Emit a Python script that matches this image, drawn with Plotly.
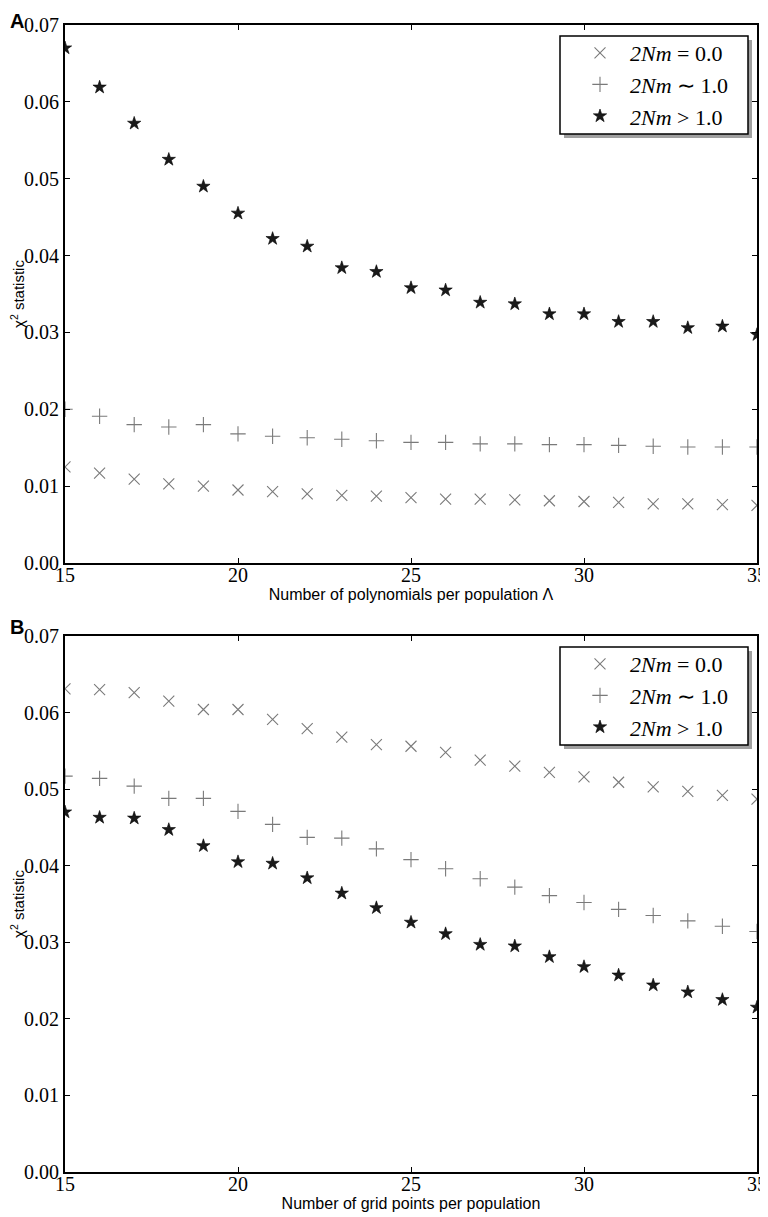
import plotly.graph_objects as go
from plotly.subplots import make_subplots

# ---------------- data ----------------
x_a = list(range(15, 36))
a_nm0 = [0.0125, 0.0117, 0.0109, 0.0103, 0.0100, 0.0095, 0.0093, 0.0090, 0.0088, 0.0087,
         0.0085, 0.0083, 0.0083, 0.0082, 0.0081, 0.0080, 0.0079, 0.0077, 0.0077, 0.0076, 0.0075]
a_nm1 = [0.0200, 0.0191, 0.0180, 0.0177, 0.0180, 0.0168, 0.0165, 0.0163, 0.0161, 0.0159,
         0.0157, 0.0157, 0.0155, 0.0155, 0.0154, 0.0154, 0.0153, 0.0152, 0.0151, 0.0151, 0.0151]
a_nmg = [0.0670, 0.0619, 0.0572, 0.0525, 0.0490, 0.0455, 0.0422, 0.0412, 0.0384, 0.0379,
         0.0358, 0.0355, 0.0339, 0.0337, 0.0324, 0.0324, 0.0314, 0.0314, 0.0306, 0.0308, 0.0297]

x_b = list(range(15, 36))
b_nm0 = [0.0631, 0.0630, 0.0626, 0.0615, 0.0604, 0.0604, 0.0591, 0.0579, 0.0568, 0.0558,
         0.0556, 0.0548, 0.0538, 0.0530, 0.0522, 0.0516, 0.0509, 0.0503, 0.0497, 0.0492, 0.0487]
b_nm1 = [0.0517, 0.0514, 0.0504, 0.0488, 0.0488, 0.0471, 0.0454, 0.0437, 0.0436, 0.0422,
         0.0408, 0.0396, 0.0383, 0.0372, 0.0361, 0.0352, 0.0343, 0.0335, 0.0328, 0.0321, 0.0314]
b_nmg = [0.0470, 0.0463, 0.0462, 0.0447, 0.0426, 0.0405, 0.0403, 0.0384, 0.0364, 0.0345,
         0.0326, 0.0311, 0.0297, 0.0295, 0.0281, 0.0268, 0.0257, 0.0244, 0.0235, 0.0225, 0.0215]

series_names = ["<i>2Nm</i> = 0.0", "<i>2Nm</i> ∼ 1.0", "<i>2Nm</i> > 1.0"]
x_titles = ["Number of polynomials per population Λ", "Number of grid points per population"]
y_title = "χ<sup>2</sup> statistic"
x_ticks = [15, 20, 25, 30, 35]
y_ticks = [0.00, 0.01, 0.02, 0.03, 0.04, 0.05, 0.06, 0.07]

# ---------------- layout helpers (page pixel coords; page body has 8px margin) ----------------
OFF = 8
W, H = 768 - OFF, 1217 - OFF
ML, MT = 65 - OFF, 25 - OFF
MR, MB = 11, 45
PW, PH = W - ML - MR, H - MT - MB


def px_x(p):
    return (p - OFF - ML) / PW


def px_y(p):
    return 1 - (p - OFF - MT) / PH


fig = make_subplots(rows=2, cols=1, vertical_spacing=0.0)

styles = [
    dict(symbol="x-thin", size=11, color="#7a7a7a", line=dict(width=1.1, color="#7a7a7a")),
    dict(symbol="cross-thin", size=11, color="#7a7a7a", line=dict(width=1.1, color="#7a7a7a")),
    dict(symbol="star", size=10, color="#1a1a1a", line=dict(width=0.6, color="#000000")),
]

for row, (xs, ys_list, leg) in enumerate([(x_a, [a_nm0, a_nm1, a_nmg], "legend"),
                                           (x_b, [b_nm0, b_nm1, b_nmg], "legend2")], start=1):
    for name, ys, st in zip(series_names, ys_list, styles):
        fig.add_trace(go.Scatter(x=xs, y=ys, mode="markers", name=name, marker=st,
                                 legend=leg, cliponaxis=True), row=row, col=1)

axis_common = dict(showline=True, linecolor="black", linewidth=2, mirror="ticks",
                   ticks="inside", ticklen=5, tickwidth=1, tickcolor="black",
                   showgrid=False, zeroline=False, automargin=False,
                   tickfont=dict(family="Liberation Serif", size=20, color="black"))

for i in (1, 2):
    fig.update_xaxes(axis_common, row=i, col=1, range=[15, 35], tickvals=x_ticks,
                     ticktext=[str(v) for v in x_ticks],
                     title=dict(text=x_titles[i - 1], standoff=0,
                                font=dict(family="Liberation Sans", size=16, color="black")))
    try:
        fig.update_xaxes(row=i, col=1, ticklabelstandoff=-7)
    except Exception:
        pass
    fig.update_yaxes(axis_common, row=i, col=1, range=[0, 0.07], tickvals=y_ticks,
                     ticktext=[f"{v:.2f}" for v in y_ticks],
                     title=dict(text=y_title, standoff=0,
                                font=dict(family="Liberation Sans", size=15, color="black")))

fig.update_layout(
    yaxis=dict(domain=[px_y(563), 1.0]),
    yaxis2=dict(domain=[0.0, px_y(636)]),
)

legend_common = dict(bgcolor="rgba(0,0,0,0)", borderwidth=0,
                     font=dict(family="Liberation Serif", size=22, color="black"),
                     xanchor="left", yanchor="top", itemwidth=50, tracegroupgap=0)

fig.update_layout(
    width=W, height=H,
    margin=dict(l=ML, r=MR, t=MT, b=MB),
    paper_bgcolor="white", plot_bgcolor="white",
    legend=dict(legend_common, x=px_x(570), y=px_y(32)),
    legend2=dict(legend_common, x=px_x(570), y=px_y(643)),
    showlegend=True,
)

# legend frames with drop shadows
for top in (36, 647):
    fig.add_shape(type="rect", xref="paper", yref="paper",
                  x0=px_x(564), x1=px_x(752), y0=px_y(top + 102), y1=px_y(top + 4),
                  fillcolor="#a0a0a0", line=dict(width=0), layer="above")
    fig.add_shape(type="rect", xref="paper", yref="paper",
                  x0=px_x(560), x1=px_x(748), y0=px_y(top + 98), y1=px_y(top),
                  fillcolor="white", line=dict(width=1.5, color="black"), layer="above")

# panel labels
for lab, ypx in (("A", 8), ("B", 614)):
    fig.add_annotation(text="<b>" + lab + "</b>", xref="paper", yref="paper",
                       x=px_x(8), y=px_y(ypx), xanchor="left", yanchor="top",
                       showarrow=False, font=dict(family="Liberation Sans", size=20, color="black"))

fig.write_html("out.html")
